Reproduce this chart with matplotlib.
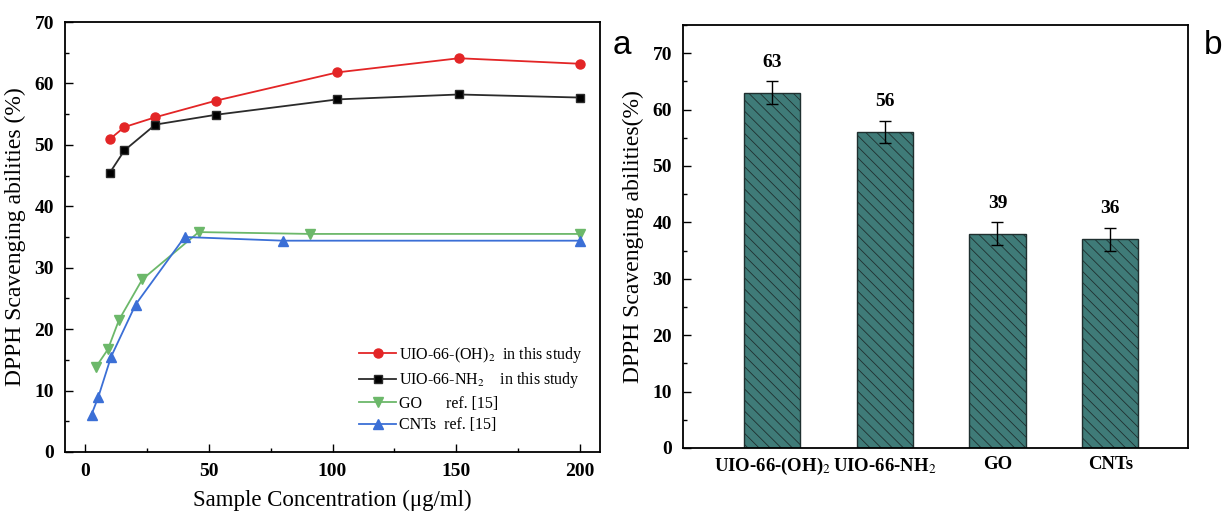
import matplotlib
matplotlib.use('Agg')
import matplotlib.pyplot as plt
from matplotlib.ticker import MultipleLocator

plt.rcParams['font.family'] = 'Liberation Serif'
plt.rcParams['mathtext.fontset'] = 'stix'
plt.rcParams['hatch.color'] = '#1f3f3d'
plt.rcParams['hatch.linewidth'] = 0.6

# panel a data
oh_x = [10, 16, 28.5, 53, 102, 151, 200]
oh_y = [50.9, 52.9, 54.5, 57.2, 61.8, 64.1, 63.2]
nh_x = [10, 16, 28.5, 53, 102, 151, 200]
nh_y = [45.4, 49.1, 53.3, 54.9, 57.4, 58.2, 57.7]
go_x = [4.6, 9.3, 13.8, 23.2, 46, 91, 200]
go_y = [13.9, 16.7, 21.5, 28.1, 35.8, 35.5, 35.5]
cnt_x = [2.7, 5.4, 10.6, 20.5, 40.3, 80, 200]
cnt_y = [6.1, 8.9, 15.5, 24.0, 35.0, 34.4, 34.4]

# panel b data
bar_names = ['UIO-66-(OH)$_2$', 'UIO-66-NH$_2$', 'GO', 'CNTs']
bar_vals = [63, 56, 38, 37]
bar_err = [2, 2, 2, 2]
bar_text = ['63', '56', '39', '36']

fig = plt.figure(figsize=(12.23, 5.18), dpi=100)
ax1 = fig.add_axes([65/1223, 1-452/518, 535/1223, 430/518])
ax2 = fig.add_axes([683/1223, 1-448/518, 505/1223, 423/518])

ax1.plot(oh_x, oh_y, color='#e32526', marker='o', ms=6.5, lw=1.3, label='UIO-66-(OH)$_2$  in this study')
ax1.plot(nh_x, nh_y, color='#2b2b2b', marker='s', ms=6, lw=1.3, markerfacecolor='black', label='UIO-66-NH$_2$    in this study')
ax1.plot(go_x, go_y, color='#6cb86a', marker='v', ms=7, lw=1.3, label='GO      ref. [15]')
ax1.plot(cnt_x, cnt_y, color='#3b6fd6', marker='^', ms=7, lw=1.3, label='CNTs  ref. [15]')

ax1.set_xlim(-8, 208)
ax1.set_ylim(0, 70)
ax1.xaxis.set_major_locator(MultipleLocator(50))
ax1.xaxis.set_minor_locator(MultipleLocator(25))
ax1.yaxis.set_major_locator(MultipleLocator(10))
ax1.yaxis.set_minor_locator(MultipleLocator(5))
ax1.tick_params(which='both', direction='in', top=False, right=False, width=1)
ax1.tick_params(which='major', length=6, labelsize=14, pad=8)
ax1.tick_params(which='minor', length=3)
for lab in ax1.get_xticklabels() + ax1.get_yticklabels():
    lab.set_fontweight('bold')
ax1.set_xlabel('Sample Concentration (μg/ml)', fontsize=16.5, labelpad=7)
ax1.set_ylabel('DPPH Scavenging abilities (%)', fontsize=17, labelpad=6)
for s in ax1.spines.values():
    s.set_linewidth(1.3)
ax1.legend(loc='lower right', frameon=False, fontsize=11.5, handlelength=2.3,
           handletextpad=0.2, labelspacing=0.35, bbox_to_anchor=(0.995, 0.01))

xs = range(len(bar_names))
ax2.bar(xs, bar_vals, width=0.5, color='#3f7b78', edgecolor='#1f2f2f', lw=1,
        hatch='\\\\\\', yerr=bar_err, capsize=4, error_kw=dict(elinewidth=1, ecolor='black', capthick=1))
for x, v, e, t in zip(xs, bar_vals, bar_err, bar_text):
    ax2.text(x, v + e + 3.4, t, ha='center', va='center', fontsize=14, fontweight='bold')
ax2.set_xlim(-0.79, 3.69)
ax2.set_ylim(0, 75)
ax2.set_xticks(list(xs))
ax2.set_xticklabels(bar_names, fontsize=13.5, fontweight='bold')
ax2.yaxis.set_major_locator(MultipleLocator(10))
ax2.yaxis.set_minor_locator(MultipleLocator(5))
ax2.tick_params(axis='x', length=0, pad=6)
ax2.tick_params(axis='y', which='both', direction='in', width=1)
ax2.tick_params(axis='y', which='major', length=6, labelsize=14, pad=8)
ax2.tick_params(axis='y', which='minor', length=3)
for lab in ax2.get_yticklabels():
    lab.set_fontweight('bold')
ax2.set_ylabel('DPPH Scavenging abilities(%)', fontsize=17, labelpad=6)
for s in ax2.spines.values():
    s.set_linewidth(1.3)

fig.text(622/1223, 1-45/518, 'a', fontsize=24, family='Liberation Sans', va='center', ha='center')
fig.text(1213/1223, 1-45/518, 'b', fontsize=24, family='Liberation Sans', va='center', ha='center')

fig.savefig('out.png', dpi=100)
